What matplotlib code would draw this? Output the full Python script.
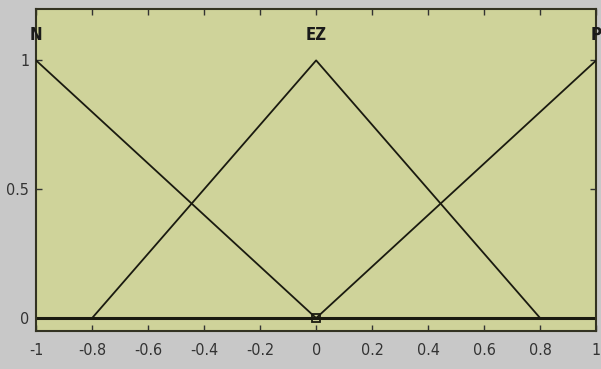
import matplotlib
matplotlib.use('Agg')
import matplotlib.pyplot as plt

# membership functions (x breakpoints, mu values)
mf_names = ['N', 'EZ', 'P']
mf_x = [[-1, 0], [-0.8, 0, 0.8], [0, 1]]
mf_y = [[1, 0], [0, 1, 0], [0, 1]]
label_x = [-1, 0, 1]

xticks = [-1, -0.8, -0.6, -0.4, -0.2, 0, 0.2, 0.4, 0.6, 0.8, 1]
xticklabels = ['-1', '-0.8', '-0.6', '-0.4', '-0.2', '0', '0.2', '0.4', '0.6', '0.8', '1']
yticks = [0, 0.5, 1]
yticklabels = ['0', '0.5', '1']

plt.rcParams['font.family'] = ['DejaVu Sans']
plt.rcParams['font.stretch'] = 'condensed'

fig = plt.figure(figsize=(6.01, 3.69), dpi=100, facecolor='#c8c8c8')
ax = fig.add_axes([0.06, 0.103, 0.932, 0.873])
ax.set_facecolor('#cfd39a')

# zero line
ax.plot([-1, 1], [0, 0], color='#1a1a10', lw=2.2, zorder=2)

for name, xs, ys, lx in zip(mf_names, mf_x, mf_y, label_x):
    ax.plot(xs, ys, color='#1a1a10', lw=1.3, zorder=3)
    ax.text(lx, 1.1, name, ha='center', va='center', fontsize=12, fontweight='bold',
            color='#1a1a1a', zorder=4)

ax.plot([0], [0], marker='s', ms=6, mfc='none', mec='#1a1a10', mew=1.3, zorder=4)

ax.set_xlim(-1, 1)
ax.set_ylim(-0.05, 1.2)
ax.set_xticks(xticks)
ax.set_xticklabels(xticklabels)
ax.set_yticks(yticks)
ax.set_yticklabels(yticklabels)
ax.tick_params(direction='in', top=True, right=True, length=4, width=1,
               labelsize=11.5, colors='#333333')
ax.tick_params(axis='x', pad=9)
ax.tick_params(axis='y', pad=5)
for s in ax.spines.values():
    s.set_color('#333322')
    s.set_linewidth(1.5)

fig.savefig('out.png', dpi=100, facecolor=fig.get_facecolor())
